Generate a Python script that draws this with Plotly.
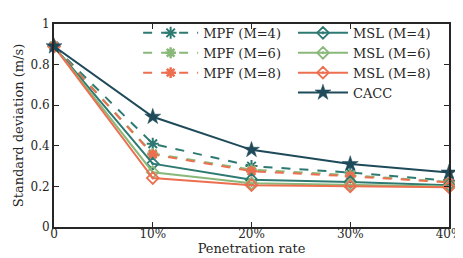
import plotly.graph_objects as go

x_vals = [0, 10, 20, 30, 40]
x_ticktext = ["0", "10%", "20%", "30%", "40%"]
y_tickvals = [0, 0.2, 0.4, 0.6, 0.8, 1]
y_ticktext = ["0", "0.2", "0.4", "0.6", "0.8", "1"]

mpf4 = [0.89, 0.41, 0.30, 0.268, 0.228]
mpf6 = [0.89, 0.362, 0.282, 0.255, 0.222]
mpf8 = [0.89, 0.357, 0.275, 0.25, 0.22]
msl4 = [0.89, 0.312, 0.233, 0.222, 0.206]
msl6 = [0.89, 0.27, 0.215, 0.207, 0.2]
msl8 = [0.89, 0.241, 0.206, 0.2, 0.196]
cacc = [0.89, 0.543, 0.38, 0.31, 0.268]

TEAL = "#2e7a73"
GREEN = "#8ab87a"
ORANGE = "#ec6f50"
NAVY = "#1e4a5a"
FONT = "DejaVu Serif"

fig = go.Figure()

def add(y, name, color, dash, symbol, size, mlw, legend):
    fig.add_trace(go.Scatter(
        x=x_vals, y=y, name=name, mode="lines+markers",
        line=dict(color=color, width=2, dash=dash),
        marker=dict(symbol=symbol, size=size, color=color,
                    line=dict(color=color, width=mlw)),
        legend=legend, cliponaxis=False,
    ))

add(mpf4, "MPF (M=4)", TEAL, "dash", "asterisk-open", 10, 2, "legend")
add(mpf6, "MPF (M=6)", GREEN, "dash", "asterisk-open", 9, 2.5, "legend")
add(mpf8, "MPF (M=8)", ORANGE, "dash", "asterisk-open", 9, 2.5, "legend")
add(msl4, "MSL (M=4)", TEAL, "solid", "diamond-open-dot", 9, 1.8, "legend2")
add(msl6, "MSL (M=6)", GREEN, "solid", "diamond-open-dot", 9, 1.8, "legend2")
add(msl8, "MSL (M=8)", ORANGE, "solid", "diamond-open-dot", 9, 1.8, "legend2")
add(cacc, "CACC", NAVY, "solid", "star", 12, 0.5, "legend2")

axis_common = dict(
    showline=True, linecolor="#262626", linewidth=2, mirror="ticks",
    ticks="inside", ticklen=5, tickwidth=1, tickcolor="#262626",
    showgrid=False, zeroline=False, ticklabeloverflow="allow",
    tickfont=dict(family=FONT, size=12, color="#262626"),
)

fig.update_layout(
    width=463, height=258,
    margin=dict(l=40, r=13, t=9, b=39),
    paper_bgcolor="white", plot_bgcolor="white",
    font=dict(family=FONT, size=13, color="#262626"),
    xaxis=dict(range=[0, 40], tickvals=x_vals, ticktext=x_ticktext,
               ticklabelstandoff=-5,
               title=dict(text="Penetration rate", standoff=0,
                          font=dict(family=FONT, size=13)),
               **axis_common),
    yaxis=dict(range=[0, 1], tickvals=y_tickvals, ticktext=y_ticktext,
               title=dict(text="Standard deviation (m/s)", standoff=4,
                          font=dict(family=FONT, size=13)),
               **axis_common),
    legend=dict(x=0.213, y=1.03, xanchor="left", yanchor="top",
                bgcolor="rgba(0,0,0,0)", itemwidth=55,
                font=dict(family=FONT, size=13), tracegroupgap=0),
    legend2=dict(x=0.605, y=1.03, xanchor="left", yanchor="top",
                 bgcolor="rgba(0,0,0,0)", itemwidth=50,
                 font=dict(family=FONT, size=13), tracegroupgap=0),
    showlegend=True,
)

fig.write_html("out.html")
